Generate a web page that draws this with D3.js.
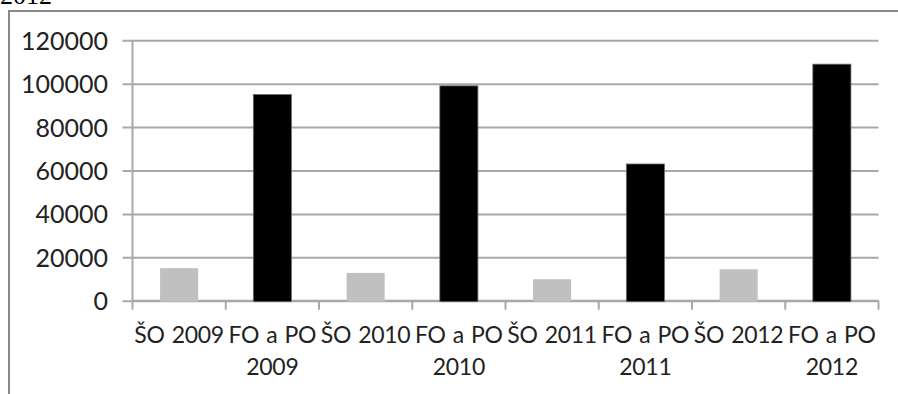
<!DOCTYPE html>
<html>
<head>
<meta charset="utf-8">
<script src="https://cdn.jsdelivr.net/npm/d3@7/dist/d3.min.js"></script>
<style>
  html, body { margin: 0; padding: 0; background: #fff; }
  svg { display: block; }
</style>
</head>
<body>
<svg id="chart" width="898" height="394"></svg>
<script>
// Category labels (two-line labels split on "\n")
const categories = [
  "ŠO 2009", "FO a PO\n2009",
  "ŠO 2010", "FO a PO\n2010",
  "ŠO 2011", "FO a PO\n2011",
  "ŠO 2012", "FO a PO\n2012"
];
// Values per category
const values = [15000, 95000, 12800, 99000, 9900, 63000, 14500, 109000];
// Bar colours: ŠO in light grey, FO a PO in black
const barColors = ["#c0c0c0", "#000000", "#c0c0c0", "#000000", "#c0c0c0", "#000000", "#c0c0c0", "#000000"];
// Y-axis ticks
const yTicks = [0, 20000, 40000, 60000, 80000, 100000, 120000];
const title = "2012";

const svg = d3.select("#chart");
const plot = { left: 132.5, right: 878.5, top: 40.3, bottom: 300.7 };

const x = d3.scaleBand().domain(categories).range([plot.left, plot.right]).padding(0);
const y = d3.scaleLinear().domain([0, 120000]).range([plot.bottom, plot.top]);

// Bar width as with a 145% gap between bars
const barW = x.bandwidth() / (1 + 1.45);

const gridColor = "#a8a8a8";
const labelFont = "Lato, 'Open Sans', sans-serif";

// Heading, mostly cut off at the top edge
svg.append("text")
  .attr("x", 0).attr("y", 4)
  .attr("font-family", "'Liberation Serif', 'Times New Roman', serif")
  .attr("font-size", 26)
  .attr("fill", "#000")
  .text(title);

// Chart area frame
svg.append("rect")
  .attr("x", 9).attr("y", 11)
  .attr("width", 898).attr("height", 400)
  .attr("fill", "none")
  .attr("stroke", "#888")
  .attr("stroke-width", 2);

// Horizontal gridlines with outside tick stubs on the left
const yAxis = d3.axisLeft(y)
  .tickValues(yTicks)
  .tickSize(-(plot.right - plot.left))
  .tickSizeOuter(0)
  .tickPadding(0)
  .tickFormat(d => d);

const gy = svg.append("g")
  .attr("transform", `translate(${plot.left},0)`)
  .call(yAxis);
gy.select(".domain").remove();
gy.selectAll(".tick line")
  .attr("x1", -10)
  .attr("stroke", gridColor)
  .attr("stroke-width", 2);
gy.selectAll(".tick text")
  .attr("x", -24.5)
  .attr("dy", "0.36em")
  .attr("font-family", labelFont)
  .attr("font-size", 25)
  .attr("fill", "#222");

// Vertical axis line
svg.append("line")
  .attr("x1", plot.left).attr("x2", plot.left)
  .attr("y1", plot.top).attr("y2", plot.bottom)
  .attr("stroke", gridColor)
  .attr("stroke-width", 2);

// Category axis with tick marks on band boundaries
const boundaries = categories.map(c => x(c)).concat([plot.right]);
const gx = svg.append("g");
gx.append("line")
  .attr("x1", plot.left).attr("x2", plot.right)
  .attr("y1", plot.bottom).attr("y2", plot.bottom)
  .attr("stroke", gridColor)
  .attr("stroke-width", 2);
gx.selectAll("line.tick")
  .data(boundaries)
  .join("line")
  .attr("class", "tick")
  .attr("x1", d => d).attr("x2", d => d)
  .attr("y1", plot.bottom).attr("y2", plot.bottom + 9)
  .attr("stroke", gridColor)
  .attr("stroke-width", 2);

// Bars
svg.append("g")
  .selectAll("rect")
  .data(categories.map((c, i) => ({ c, v: values[i], color: barColors[i] })))
  .join("rect")
  .attr("x", d => x(d.c) + (x.bandwidth() - barW) / 2)
  .attr("y", d => y(d.v))
  .attr("width", barW)
  .attr("height", d => y(0) - y(d.v) + 1)
  .attr("fill", d => d.color)
  .attr("stroke", d => d.color === "#000000" ? "#6a6a6a" : "none")
  .attr("stroke-width", 0.8);

// Category labels
const lbl = svg.append("g")
  .selectAll("text")
  .data(categories)
  .join("text")
  .attr("x", d => x(d) + x.bandwidth() / 2)
  .attr("y", plot.bottom + 42.6)
  .attr("text-anchor", "middle")
  .attr("font-family", labelFont)
  .attr("font-size", 23)
  .attr("letter-spacing", -0.3)
  .attr("word-spacing", 1.5)
  .attr("fill", "#222");
lbl.each(function(d) {
  const lines = d.split("\n");
  const t = d3.select(this);
  lines.forEach((line, i) => {
    t.append("tspan")
      .attr("x", t.attr("x"))
      .attr("dy", i === 0 ? 0 : 31.7)
      .text(line);
  });
});
</script>
</body>
</html>
